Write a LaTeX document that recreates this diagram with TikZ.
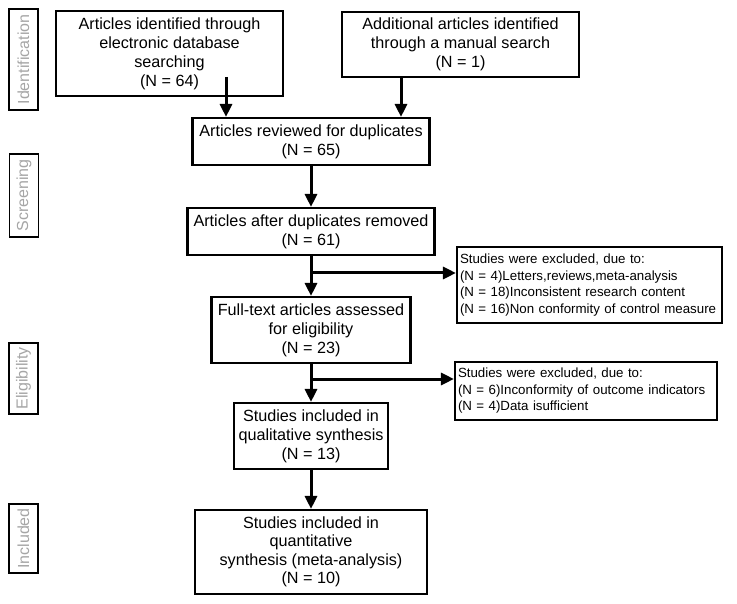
\documentclass[tikz,border=0pt]{standalone}
\usepackage{fontspec}
\setmainfont{Liberation Sans}
\usetikzlibrary{arrows.meta,calc}
\begin{document}
\begin{tikzpicture}[x=1pt,y=-1pt,
 box/.style={draw=black,line width=2.1pt,align=center,inner sep=0pt,font=\fontsize{16.2}{19}\selectfont},
 ex/.style={draw=black,line width=2.1pt,align=left,inner xsep=3pt,inner ysep=0pt,anchor=center,font=\fontsize{13.3}{16.5}\selectfont},
 lab/.style={draw=black,line width=1.5pt,text=black!35,inner sep=0pt,rotate=90,minimum height=29pt,font=\fontsize{16}{19}\selectfont},
 arr/.style={line width=3pt,-{Triangle[length=13pt,width=12pt]}}]
\useasboundingbox[fill=white] (0,0) rectangle (737,604);

% stage labels
\node[lab,minimum width=101pt] (lid) at (23.5,59.5) {Identification};
\node[lab,minimum width=83pt] (lsc) at (24,195.5) {Screening};
\node[lab,minimum width=71pt] (lel) at (23.5,378.5) {Eligibility};
\node[lab,minimum width=69pt] (lin) at (23.5,538.5) {Included};

% main boxes
\node[box,minimum width=227pt,minimum height=85pt] (b1) at (169.5,53.5)
  {Articles identified through\\electronic database\\searching\\(N = 64)};
\node[box,minimum width=237pt,minimum height=65pt] (b2) at (460.5,44.5)
  {Additional articles identified\\through a manual search\\(N = 1)};
\node[box,minimum width=237pt,minimum height=47pt] (b3) at (311,141.5)
  {Articles reviewed for duplicates\\(N = 65)};
\node[box,minimum width=247pt,minimum height=47pt] (b4) at (311,231.5)
  {Articles after duplicates removed\\(N = 61)};
\node[box,minimum width=199pt,minimum height=66pt] (b5) at (311,330)
  {Full-text articles assessed\\for eligibility\\(N = 23)};
\node[box,minimum width=154pt,minimum height=66pt] (b6) at (311,436)
  {Studies included in\\qualitative synthesis\\(N = 13)};
\node[box,minimum width=232pt,minimum height=84pt,font=\fontsize{16.2}{18.5}\selectfont] (b7) at (311,552)
  {Studies included in\\quantitative\\synthesis (meta-analysis)\\(N = 10)};

% exclusion boxes
\node[ex,text width=259pt,minimum height=76pt] (e1) at (589.5,285)
  {Studies were excluded, due to:\\(N = 4)Letters,reviews,meta-analysis\\(N = 18)Inconsistent research content\\\mbox{(N = 16)Non conformity of control measure}};
\node[ex,text width=256pt,minimum height=58pt] (e2) at (586,391)
  {Studies were excluded, due to:\\\mbox{(N = 6)Inconformity of outcome indicators}\\(N = 4)Data isufficient};

% connectors
\coordinate (s1) at (226,77);
\coordinate (s2) at (401,77);
\draw[arr] (s1) -- (s1 |- b3.north);
\draw[arr] (s2) -- (s2 |- b3.north);
\draw[arr] (b3.south) -- (b4.north);
\draw[arr] (b4.south) -- (b5.north);
\draw[arr] (b5.south) -- (b6.north);
\draw[arr] (b6.south) -- (b7.north);
\coordinate (j1) at (311,273);
\coordinate (j2) at (311,379);
\draw[arr] (j1) -- (j1 -| e1.west);
\draw[arr] (j2) -- (j2 -| e2.west);
\end{tikzpicture}
\end{document}
